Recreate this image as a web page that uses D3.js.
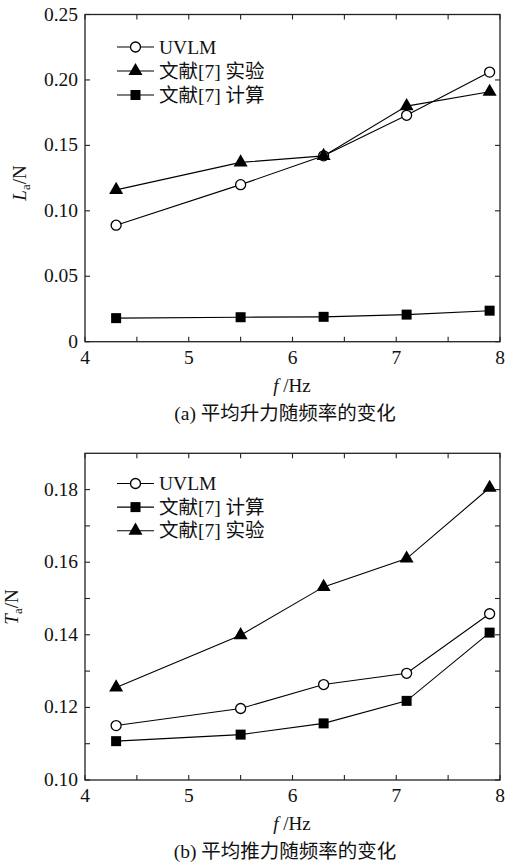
<!DOCTYPE html>
<html><head><meta charset="utf-8">
<script src="https://cdn.jsdelivr.net/npm/d3@7"></script>
<style>
body{margin:0;background:#fff;}
text{font-family:"Liberation Serif","Times New Roman","Noto Sans CJK SC",serif;fill:#111;}
</style></head>
<body><svg id="c" width="512" height="868"></svg>
<script>
const freq = [4.3, 5.5, 6.3, 7.1, 7.9];
// Panel (a): mean lift
const liftUVLM = [0.089, 0.120, 0.142, 0.173, 0.206];
const liftExp  = [0.116, 0.137, 0.142, 0.180, 0.191];
const liftCalc = [0.018, 0.0187, 0.019, 0.0207, 0.0237];
// Panel (b): mean thrust
const thrUVLM = [0.1150, 0.1197, 0.1263, 0.1294, 0.1458];
const thrCalc = [0.1107, 0.1125, 0.1156, 0.1218, 0.1406];
const thrExp  = [0.1255, 0.1399, 0.1532, 0.1610, 0.1805];

const xTicks = [4, 5, 6, 7, 8];
const xMinor = [4.5, 5.5, 6.5, 7.5];
const yTicksA = [0, 0.05, 0.10, 0.15, 0.20, 0.25];
const yTicksB = [0.10, 0.12, 0.14, 0.16, 0.18];
const yMinorB = [0.11, 0.13, 0.15, 0.17];

const legA = [["UVLM","circle"],["文献[7] 实验","triangle"],["文献[7] 计算","square"]];
const legB = [["UVLM","circle"],["文献[7] 计算","square"],["文献[7] 实验","triangle"]];

const svg = d3.select("#c");

function marker(g, type, x, y){
  if(type==="circle") g.append("circle").attr("cx",x).attr("cy",y).attr("r",5).attr("fill","#fff").attr("stroke","#000").attr("stroke-width",1.3);
  else if(type==="square") g.append("rect").attr("x",x-5).attr("y",y-5).attr("width",10).attr("height",10).attr("fill","#000");
  else g.append("path").attr("transform",`translate(${x},${y})`).attr("d",d3.symbol(d3.symbolTriangle,85)()).attr("fill","#000");
}

function panel(o){
  const x = d3.scaleLinear().domain([4,8]).range([85,500]);
  const y = d3.scaleLinear().domain(o.ydom).range([o.bottom,o.top]);
  const g = svg.append("g");
  const tl=5;
  const tk = g.append("g").attr("stroke","#222").attr("stroke-width",1.1);
  xTicks.concat(xMinor).forEach(v=>{
    tk.append("line").attr("x1",x(v)).attr("x2",x(v)).attr("y1",o.bottom).attr("y2",o.bottom-tl);
    tk.append("line").attr("x1",x(v)).attr("x2",x(v)).attr("y1",o.top).attr("y2",o.top+tl);
  });
  o.yt.concat(o.ym).forEach(v=>{
    tk.append("line").attr("x1",85).attr("x2",85+tl).attr("y1",y(v)).attr("y2",y(v));
    tk.append("line").attr("x1",500).attr("x2",500-tl).attr("y1",y(v)).attr("y2",y(v));
  });
  g.append("rect").attr("x",85).attr("y",o.top).attr("width",415).attr("height",o.bottom-o.top)
   .attr("fill","none").attr("stroke","#222").attr("stroke-width",1.3);
  xTicks.forEach(v=>g.append("text").attr("x",x(v)).attr("y",o.bottom+22).attr("text-anchor","middle").attr("font-size",19.5).text(v));
  o.yt.forEach(v=>g.append("text").attr("x",78).attr("y",y(v)+6).attr("text-anchor","end").attr("font-size",19.5).text(o.fmt(v)));
  const xl = g.append("text").attr("x",292).attr("y",o.bottom+50).attr("text-anchor","middle").attr("font-size",19);
  xl.append("tspan").attr("font-style","italic").text("f");
  xl.append("tspan").text(" /Hz");
  const yl = g.append("text").attr("transform",`translate(${o.ylx},${o.yly}) rotate(-90)`).attr("text-anchor","middle").attr("font-size",19);
  yl.append("tspan").attr("font-style","italic").text(o.ysym);
  yl.append("tspan").attr("font-size",13).attr("dy",4).text("a");
  yl.append("tspan").attr("dy",-4).text("/N");
  g.append("text").attr("x",285).attr("y",o.bottom+78).attr("text-anchor","middle").attr("font-size",19.5).text(o.caption);
  const line = d3.line().x((d,i)=>x(freq[i])).y(d=>y(d));
  o.series.forEach(s=>{
    g.append("path").attr("d",line(s.v)).attr("fill","none").attr("stroke","#000").attr("stroke-width",1.1);
  });
  o.series.forEach(s=>s.v.forEach((v,i)=>marker(g,s.m,x(freq[i]),y(v))));
  o.leg.forEach((l,i)=>{
    const yy=o.legY+i*o.legDy;
    g.append("line").attr("x1",117).attr("x2",154).attr("y1",yy).attr("y2",yy).attr("stroke","#000").attr("stroke-width",1.1);
    marker(g,l[1],135.5,yy);
    g.append("text").attr("x",159).attr("y",yy+6.5).attr("font-size",19.5).text(l[0]);
  });
}

panel({ydom:[0,0.25], top:14.5, bottom:341.7, yt:yTicksA, ym:[],
  fmt:v=>v===0?"0":d3.format(".2f")(v), ysym:"L", ylx:26, yly:183,
  caption:"(a) 平均升力随频率的变化",
  series:[{v:liftUVLM,m:"circle"},{v:liftExp,m:"triangle"},{v:liftCalc,m:"square"}],
  leg:legA, legY:47, legDy:24});
panel({ydom:[0.10,0.19], top:453.3, bottom:780, yt:yTicksB, ym:yMinorB,
  fmt:d3.format(".2f"), ysym:"T", ylx:18, yly:607,
  caption:"(b) 平均推力随频率的变化",
  series:[{v:thrUVLM,m:"circle"},{v:thrCalc,m:"square"},{v:thrExp,m:"triangle"}],
  leg:legB, legY:483.5, legDy:23.6});
</script></body></html>
